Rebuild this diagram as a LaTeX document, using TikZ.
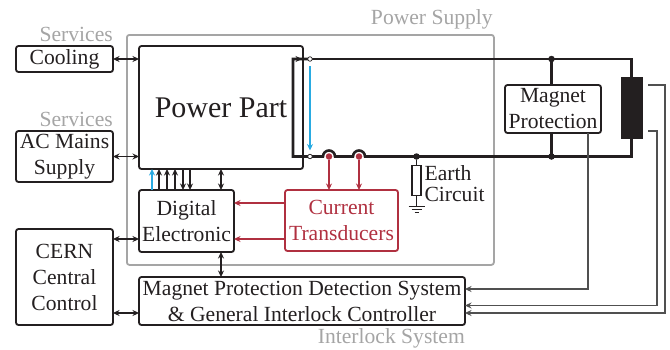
\documentclass[tikz,border=0pt]{standalone}
\usepackage{fontspec}
\setmainfont{Liberation Serif}
\usetikzlibrary{positioning,calc,arrows.meta}
\definecolor{myblack}{RGB}{35,31,32}
\definecolor{mygrey}{RGB}{165,165,165}
\definecolor{myline}{RGB}{80,80,80}
\definecolor{myred}{RGB}{176,48,64}
\definecolor{myblue}{RGB}{41,171,226}

\begin{document}
\begin{tikzpicture}[x=1pt,y=-1pt,>={Stealth[length=6.5pt,width=6pt]},
  block/.style={draw=myblack,line width=1.8pt,rounded corners=2.5pt,inner sep=0pt,
    outer sep=0pt,align=center,text=myblack,font=\fontsize{21.6}{26}\selectfont},
  redblock/.style={block,draw=myred,text=myred},
  grouplabel/.style={inner sep=0pt,text=mygrey,font=\fontsize{21.6}{26}\selectfont},
  bus/.style={draw=myblack,line width=2.6pt},
  link/.style={<->,draw=myblack,line width=1.1pt},
  biglink/.style={<->,draw=myblack,line width=1.7pt},
  sensed/.style={->,draw=myline,line width=1.2pt},
  redlink/.style={->,draw=myred,line width=1.3pt},
  terminal/.style={circle,draw=myblack,fill=white,line width=.7pt,inner sep=0pt,minimum size=4.5pt},
  junction/.style={circle,fill=myblack,inner sep=0pt,minimum size=6.5pt},
  sensor/.style={circle,fill=myred,inner sep=0pt,minimum size=6.5pt}]
  \useasboundingbox (0,0) rectangle (670,349);

  \node[draw=mygrey,line width=1.8pt,rounded corners=2.5pt,minimum width=367pt,minimum height=230pt,
    anchor=north west] (supply) at (126,34) {};
  \node[grouplabel,anchor=south east] (supplylabel) at (493,29) {Power Supply};

  \node[block,minimum width=164pt,minimum height=123pt,anchor=north west,
    font=\fontsize{30}{34}\selectfont] (power) at (139,46) {Power Part};
  \node[block,minimum width=97pt,minimum height=26pt,anchor=north west] (cooling) at (16,46) {Cooling};
  \node[block,minimum width=97pt,minimum height=51pt,anchor=north west] (mains) at (16,131) {AC Mains\\Supply};
  \node[block,minimum width=97pt,minimum height=96pt,anchor=north west] (cern) at (16,229) {CERN\\Central\\Control};
  \node[block,below=21pt of power.south west,anchor=north west,minimum width=95pt,minimum height=62pt] (digital) {Digital\\Electronic};
  \node[redblock,right=51pt of digital.north east,anchor=north west,minimum width=113pt,minimum height=61pt] (transducers) {Current\\Transducers};
  \node[block,below=25pt of digital.south west,anchor=north west,minimum width=326pt,minimum height=48pt] (interlock)
    {Magnet Protection Detection System\\\& General Interlock Controller};
  \node[block,minimum width=96pt,minimum height=48pt,anchor=north west] (protection) at (505,85) {Magnet\\Protection};
  \node[draw=myblack,fill=myblack,line width=.5pt,minimum width=21pt,minimum height=61pt,inner sep=0pt,anchor=north west] (magnet) at (621,77) {};

  \node[grouplabel,above=4pt of cooling.north east,anchor=south east] (servicesa) {Services};
  \node[grouplabel,above=4pt of mains.north east,anchor=south east] (servicesb) {Services};
  \node[grouplabel,below=3pt of interlock.south east,anchor=north east] (interlocklabel) {Interlock System};

  \coordinate (outtop) at (310,59);
  \coordinate (outbot) at (310,156.5);
  \coordinate (innertop) at (293,59);
  \coordinate (innerbot) at (293,156.5);
  \coordinate (bumpa) at (329,156.5);
  \coordinate (bumpb) at (359,156.5);
  \coordinate (earth) at (416.5,156.5);
  \coordinate (cornertop) at (631.5,59);
  \coordinate (cornerbot) at (631.5,156.5);
  \coordinate (protecttop) at (551.5,59);
  \coordinate (protectbot) at (551.5,156.5);

  % main current path
  \draw[bus] (outtop) -- (innertop) -- (innerbot) -- (outbot) -- ($(bumpa)+(-6,0)$)
    arc[start angle=180,end angle=0,radius=6pt] -- ($(bumpb)+(-6,0)$)
    arc[start angle=180,end angle=0,radius=6pt] -- (cornerbot) -- (magnet.south -| cornerbot);
  \draw[bus] (outtop) -- (cornertop) -- (magnet.north -| cornertop);
  \draw[bus] (protecttop) -- (protection.north -| protecttop);
  \draw[bus] (protection.south -| protectbot) -- (protectbot);
  \draw[->,draw=myblack,line width=.8pt] (innertop) -- ++(9,0);
  \node[terminal] (termtop) at (outtop) {};
  \node[terminal] (termbot) at (outbot) {};
  \node[junction] (dota) at (protecttop) {};
  \node[junction] (dotb) at (protectbot) {};
  \node[junction] (dotc) at (earth) {};
  \draw[->,draw=myblue,line width=1.4pt] ($(termtop)+(0,7)$) -- ($(termbot)+(0,-6)$);

  % earth circuit
  \node[draw=myblack,fill=white,line width=1.7pt,minimum width=9pt,minimum height=30pt,inner sep=0pt,below=8pt of earth] (resistor) {};
  \coordinate[below=10pt of resistor] (ground);
  \draw[draw=myblack,line width=1.5pt] (dotc) -- (resistor) (resistor) -- (ground);
  \draw[draw=myblack,line width=1.4pt] ($(ground)+(-8,0)$) -- ($(ground)+(8,0)$)
    ($(ground)+(-5,3)$) -- ($(ground)+(5,3)$) ($(ground)+(-2,6)$) -- ($(ground)+(2,6)$);
  \node[right=2.5pt of resistor.north east,anchor=north west,inner sep=0pt,align=left,text=myblack,
    font=\fontsize{21.6}{21}\selectfont,yshift=-1pt] (earthlabel) {Earth\\Circuit};

  % current measurement
  \node[sensor] (sensora) at (bumpa) {};
  \node[sensor] (sensorb) at (bumpb) {};
  \draw[redlink] (sensora) -- (sensora |- transducers.north);
  \draw[redlink] (sensorb) -- (sensorb |- transducers.north);
  \draw[redlink] ($(transducers.north west)+(0,13)$) -- ($(digital.north east)+(0,13)$);
  \draw[redlink] ($(transducers.north west)+(0,49)$) -- ($(digital.north east)+(0,49)$);

  % services and control
  \draw[biglink] (cooling.east) -- (cooling.east -| power.west);
  \draw[biglink] (mains.east) -- (mains.east -| power.west);
  \draw[link] ($(cern.north east)+(0,10)$) -- ($(digital.south west)+(0,-13)$);
  \draw[link] ($(cern.south east)+(0,-12)$) -- ($(interlock.south west)+(0,-12)$);
  \draw[link] ($(digital.south west)+(82,0)$) -- ($(interlock.north west)+(82,0)$);

  % power part to digital electronic
  \draw[->,draw=myblue,line width=1.5pt] ($(digital.north west)+(13,0)$) -- ($(power.south west)+(13,0)$);
  \foreach \offs in {20,28,36}
    \draw[->,draw=myblack,line width=1.1pt] ($(digital.north west)+(\offs,0)$) -- ($(power.south west)+(\offs,0)$);
  \foreach \offs in {44,51}
    \draw[->,draw=myblack,line width=1.1pt] ($(power.south west)+(\offs,0)$) -- ($(digital.north west)+(\offs,0)$);
  \draw[link] ($(power.south west)+(82,0)$) -- ($(digital.north west)+(82,0)$);

  % interlock signals
  \coordinate (stuba) at (648,85);
  \coordinate (stubb) at (648,131);
  \draw[sensed] ($(protection.south west)+(83,0)$) |- ($(interlock.north east)+(0,12)$);
  \draw[sensed] (stuba) -- (665,85) |- ($(interlock.south east)+(0,-12)$);
  \draw[sensed] (stubb) -- (657,131) |- ($(interlock.south east)+(0,-19.5)$);
\end{tikzpicture}
\end{document}
